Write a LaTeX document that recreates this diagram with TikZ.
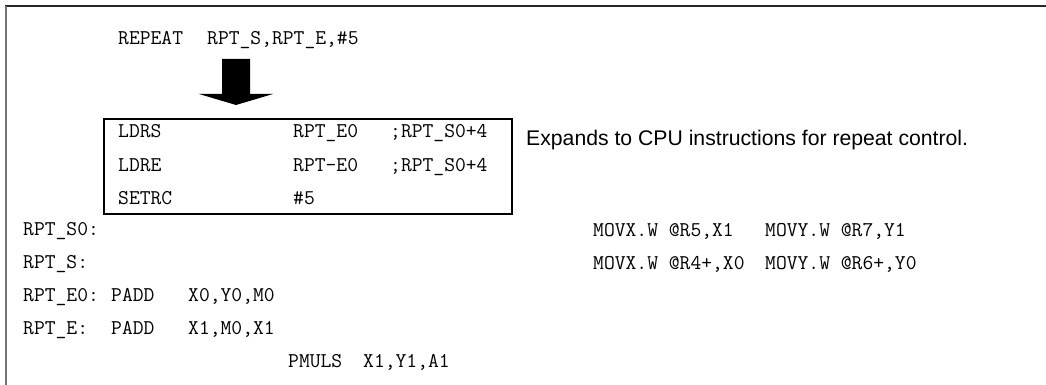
\documentclass[tikz,border=0pt]{standalone}
\usepackage{fontspec}
\newfontfamily\labelsans{Liberation Sans}
\begin{document}
\begin{tikzpicture}[x=1pt,y=-1pt,
  code/.style={anchor=base west,inner sep=0pt,font=\ttfamily\fontsize{21}{24}\selectfont},
  note/.style={anchor=base west,inner sep=0pt,font=\labelsans\fontsize{21.2}{24}\selectfont},
  framebox/.style={draw=black,line width=1.3pt,minimum width=408pt,minimum height=95pt,inner sep=0pt}]
\useasboundingbox (0,0) rectangle (1046,385);
% frame
\draw[line width=2pt,black!85] (5,6) -- (1046,6);
\draw[line width=2pt,black!55] (6,6) -- (6,385);
% macro line
\node[code] (rep) at (118,45) {REPEAT};
\node[code] (repargs) at (207,45) {RPT\_S,RPT\_E,\#5};
% block arrow
\fill[black] (222,59) -- (250,59) -- (250,94) -- (273,94) -- (236,105) -- (199,94) -- (222,94) -- cycle;
% expansion box
\node[framebox] (box) at (308,166.5) {};
\node[code] (l1a) at (118,138) {LDRS};
\node[code] (l1b) at (293,138) {RPT\_E0};
\node[code] (l1c) at (390,138) {;RPT\_S0+4};
\node[code] (l2a) at (118,171) {LDRE};
\node[code] (l2b) at (293,171) {RPT-E0};
\node[code] (l2c) at (390,171) {;RPT\_S0+4};
\node[code] (l3a) at (118,204) {SETRC};
\node[code] (l3b) at (293,204) {\#5};
\node[note] (expl) at (526,146) {Expands to CPU instructions for repeat control.};
% program
\node[code] (s0) at (23,235) {RPT\_S0:};
\node[code] (m1a) at (593,236) {MOVX.W @R5,X1};
\node[code] (m1b) at (765,236) {MOVY.W @R7,Y1};
\node[code] (s) at (23,268) {RPT\_S:};
\node[code] (m2a) at (593,269) {MOVX.W @R4+,X0};
\node[code] (m2b) at (765,269) {MOVY.W @R6+,Y0};
\node[code] (e0) at (23,301) {RPT\_E0:};
\node[code] (e0op) at (111,301) {PADD};
\node[code] (e0arg) at (188,301) {X0,Y0,M0};
\node[code] (e) at (23,334) {RPT\_E:};
\node[code] (eop) at (111,334) {PADD};
\node[code] (earg) at (188,334) {X1,M0,X1};
\node[code] (pm) at (288,367) {PMULS};
\node[code] (pmarg) at (363,367) {X1,Y1,A1};
\end{tikzpicture}
\end{document}
